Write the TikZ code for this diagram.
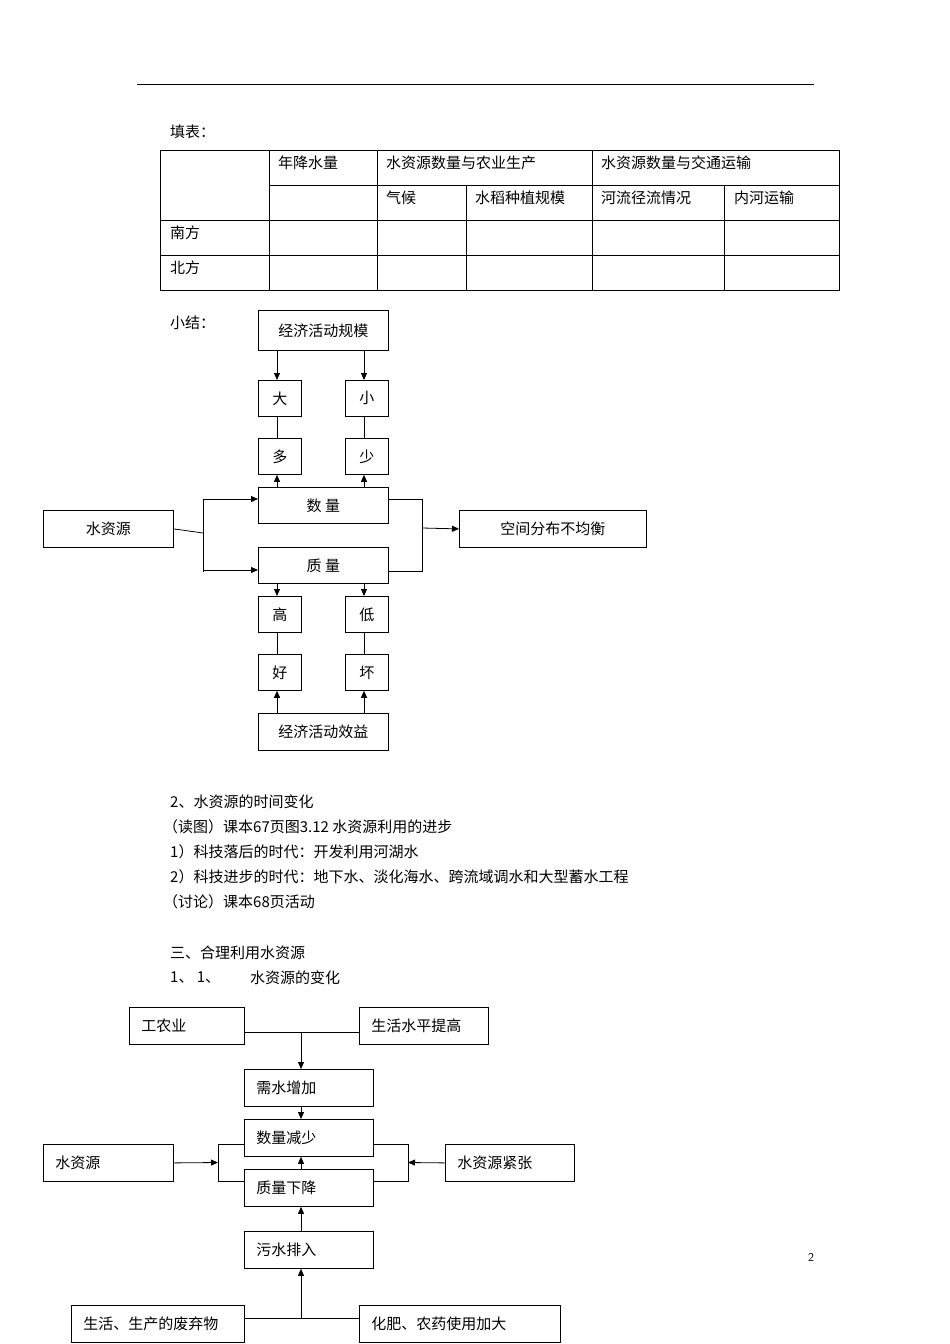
\documentclass[tikz,border=0pt]{standalone}
\usepackage{fontspec}
\setmainfont{Noto Sans CJK SC}
\usetikzlibrary{arrows.meta,calc}
\tikzset{
  box/.style={draw,line width=0.8pt,anchor=north west,inner sep=0pt,font=\fontsize{15}{18}\selectfont},
  lbox/.style={box,align=left,inner xsep=12pt},
  arr/.style={line width=0.8pt,-{Triangle[length=7pt,width=6pt]}},
  ln/.style={line width=0.8pt},
  txt/.style={anchor=west,inner sep=0pt,font=\fontsize{15}{18}\selectfont},
}
\begin{document}
\begin{tikzpicture}[x=1pt,y=-1pt]
\useasboundingbox[fill=white] (0,0) rectangle (950,1344);
\draw[ln] (137,84) -- (814,84);
\node[txt] (tb) at (170,132) {填表：};
% table
\draw[ln] (160,150) rectangle (839,290);
\foreach \y in {220,255} \draw[ln] (160,\y) -- (839,\y);
\draw[ln] (269,185) -- (839,185);
\foreach \x in {269,377,592} \draw[ln] (\x,150) -- (\x,290);
\foreach \x in {466,724} \draw[ln] (\x,185) -- (\x,290);
\node[txt] (t1) at (278,163) {年降水量};
\node[txt] (t2) at (386,163) {水资源数量与农业生产};
\node[txt] (t3) at (601,163) {水资源数量与交通运输};
\node[txt] (t4) at (386,198) {气候};
\node[txt] (t5) at (475,198) {水稻种植规模};
\node[txt] (t6) at (601,198) {河流径流情况};
\node[txt] (t7) at (734,198) {内河运输};
\node[txt] (t8) at (170,233) {南方};
\node[txt] (t9) at (170,268) {北方};
% diagram 1
\node[txt] (xj) at (170,323) {小结：};
\node[box,minimum width=130,minimum height=40] (gm) at (258,310) {经济活动规模};
\node[box,minimum width=43,minimum height=36] (da) at (258,380) {大};
\node[box,minimum width=43,minimum height=36] (xi) at (345,380) {小};
\node[box,minimum width=43,minimum height=36] (duo) at (258,438) {多};
\node[box,minimum width=43,minimum height=36] (sh) at (345,438) {少};
\node[box,minimum width=130,minimum height=36] (sl) at (258,487) {数\ 量};
\node[box,minimum width=130,minimum height=37] (sz) at (43,510) {水资源};
\node[box,minimum width=187,minimum height=37] (kj) at (459,510) {空间分布不均衡};
\node[box,minimum width=130,minimum height=36] (zl) at (258,547) {质\ 量};
\node[box,minimum width=43,minimum height=36] (ga) at (258,596) {高};
\node[box,minimum width=43,minimum height=36] (di) at (345,596) {低};
\node[box,minimum width=43,minimum height=36] (ha) at (258,654) {好};
\node[box,minimum width=43,minimum height=36] (hu) at (345,654) {坏};
\node[box,minimum width=130,minimum height=37] (xy) at (258,713) {经济活动效益};
\coordinate (c1) at (277,0); \coordinate (c2) at (364,0);
\draw[arr] (gm.south -| c1) -- (da.north -| c1);
\draw[arr] (gm.south -| c2) -- (da.north -| c2);
\draw[ln] (da.south -| c1) -- (duo.north -| c1);
\draw[ln] (xi.south -| c2) -- (sh.north -| c2);
\draw[arr] (sl.north -| c1) -- (duo.south -| c1);
\draw[arr] (sl.north -| c2) -- (sh.south -| c2);
\coordinate (bl) at (203,533);
\draw[ln] (sz.east) -- (bl);
\draw[ln] (203,499) -- (203,572);
\draw[arr] (203,499) -- (sl.west |- 0,499);
\draw[arr] (203,570) -- (zl.west |- 0,570);
\draw[ln] (sl.east |- 0,499) -- (422,499) -- (422,571) -- (zl.east |- 0,571);
\draw[arr] (422,528) -- (kj.west);
\draw[arr] (zl.south -| c1) -- (ga.north -| c1);
\draw[arr] (zl.south -| c2) -- (di.north -| c2);
\draw[ln] (ga.south -| c1) -- (ha.north -| c1);
\draw[ln] (di.south -| c2) -- (hu.north -| c2);
\draw[arr] (xy.north -| c1) -- (ha.south -| c1);
\draw[arr] (xy.north -| c2) -- (hu.south -| c2);
% text
\node[txt] (p1) at (170,802) {2、水资源的时间变化};
\node[txt] (p2) at (163,827) {（读图）课本67页图3.12 水资源利用的进步};
\node[txt] (p3) at (170,852) {1）科技落后的时代：开发利用河湖水};
\node[txt] (p4) at (170,877) {2）科技进步的时代：地下水、淡化海水、跨流域调水和大型蓄水工程};
\node[txt] (p5) at (163,902) {（讨论）课本68页活动};
\node[txt] (p6) at (170,953) {三、合理利用水资源};
\node[txt] (p7) at (170,978) {1、 1、};
\node[txt] (p8) at (250,978) {水资源的变化};
\node[anchor=center,font=\fontfamily{lmss}\fontsize{12}{14}\selectfont,inner sep=0pt] (pg) at (811,1257) {2};
% diagram 2
\node[lbox,text width=91,minimum height=37] (gn) at (129,1007) {工农业};
\node[lbox,text width=105,minimum height=37] (sh2) at (359,1007) {生活水平提高};
\node[lbox,text width=105,minimum height=37] (xs) at (244,1069) {需水增加};
\node[lbox,text width=105,minimum height=37] (js) at (244,1119) {数量减少};
\node[lbox,text width=105,minimum height=37] (zx) at (244,1169) {质量下降};
\node[lbox,text width=106,minimum height=37] (sz2) at (43,1144) {水资源};
\node[lbox,text width=105,minimum height=37] (jz) at (445,1144) {水资源紧张};
\node[lbox,text width=105,minimum height=37] (ws) at (244,1231) {污水排入};
\node[lbox,text width=149,minimum height=37] (fq) at (71,1305) {生活、生产的废弃物};
\node[lbox,text width=177,minimum height=37] (hf) at (359,1305) {化肥、农药使用加大};
\coordinate (m) at (301,0);
\draw[ln] (gn.east |- 0,1032) -- (sh2.west |- 0,1032);
\draw[arr] (m |- 0,1032) -- (xs.north -| m);
\draw[arr] (xs.south -| m) -- (js.north -| m);
\draw[arr] (zx.north -| m) -- (js.south -| m);
\draw[arr] (ws.north -| m) -- (zx.south -| m);
\draw[ln] (fq.east |- 0,1318) -- (hf.west |- 0,1318);
\draw[arr] (m |- 0,1318) -- (ws.south -| m);
\draw[ln] (js.west |- 0,1144) -- (218,1144) -- (218,1181) -- (zx.west |- 0,1181);
\draw[arr] (sz2.east) -- (218,1162.5);
\draw[ln] (js.east |- 0,1144) -- (408,1144) -- (408,1181) -- (zx.east |- 0,1181);
\draw[arr] (jz.west) -- (408,1162.5);
\end{tikzpicture}
\end{document}
